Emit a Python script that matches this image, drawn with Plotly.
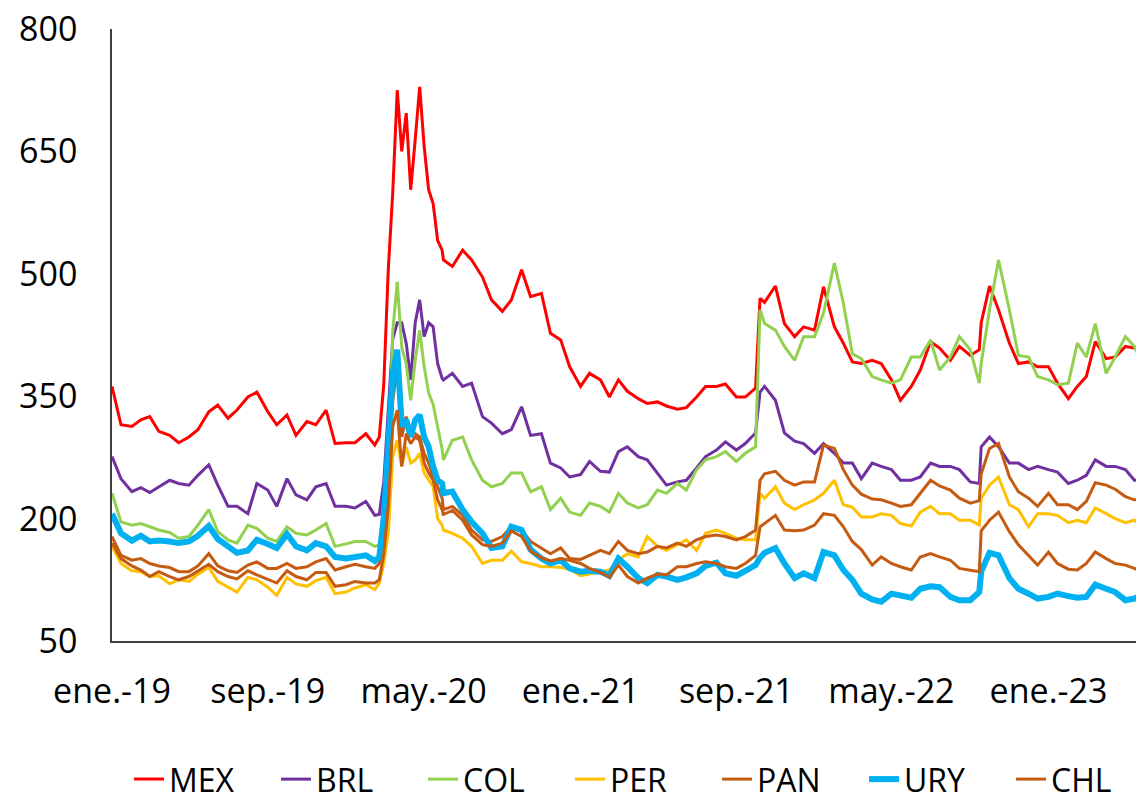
import pandas as pd
import plotly.graph_objects as go

# ---- x categories (dates) ----
seg_a = pd.date_range("2019-01-01", "2020-02-15", freq="SMS")
seg_b = pd.date_range("2020-02-22", "2020-05-30", freq="7D")
seg_c = pd.date_range("2020-06-01", "2023-06-01", freq="SMS")
extra = pd.to_datetime(["2021-10-08", "2022-09-18"])
dates = sorted(list(seg_a) + list(seg_b) + list(seg_c) + list(extra))

tick_dates = ["2019-01-01", "2019-09-01", "2020-05-01", "2021-01-01",
              "2021-09-01", "2022-05-01", "2023-01-01"]
tick_labels = ["ene.-19", "sep.-19", "may.-20", "ene.-21",
               "sep.-21", "may.-22", "ene.-23"]
y_ticks = [50, 200, 350, 500, 650, 800]

# ---- series values ----
MEX = [362, 315, 313, 321, 325, 307, 302, 293, 300, 309, 331, 339, 323, 333, 349, 355, 331, 315, 327, 302, 319, 315, 333, 292, 293, 293, 304, 290,
       300, 365, 505, 600, 725, 650, 697, 603, 664, 729, 656, 603, 586, 541, 529,
       517, 509, 529, 517, 496, 468, 454, 468, 505, 472, 476, 427, 419, 386,
       362, 378, 370, 349, 370, 356, 347, 341, 343, 338, 334, 336, 349, 362, 362, 365, 349, 349, 360, 470, 465, 485, 439, 423, 435,
       431, 484, 435, 415, 392, 390, 394, 390, 370, 345, 362, 382, 417, 409, 394, 411, 400, 407, 440, 485, 456, 415, 390, 392, 386,
       386, 366, 347, 362, 374, 417, 396, 398, 411, 409, 407]
BRL = [276, 249, 233, 238, 232, 239, 247, 243, 241, 253, 266, 241, 215, 215, 206, 243, 235, 215, 249, 229, 223, 239, 243, 215, 215, 213, 221, 204,
       205, 245, 330, 420, 440, 440, 415, 370, 440, 468, 423, 440, 435, 390, 372,
       370, 378, 362, 366, 325, 317, 304, 309, 337, 302, 304, 268, 262, 251,
       254, 270, 258, 257, 282, 288, 276, 272, 255, 241, 245, 247, 262, 276, 284, 294, 284, 292, 305, 355, 362, 345, 305, 295, 292,
       280, 292, 280, 268, 268, 249, 268, 264, 260, 247, 247, 251, 268, 264, 264, 260, 245, 243, 288, 300, 288, 268, 268, 260, 264,
       260, 257, 243, 247, 253, 272, 264, 264, 260, 247, 247]
COL = [231, 196, 192, 194, 190, 186, 183, 176, 178, 192, 211, 184, 174, 170, 192, 188, 176, 172, 190, 182, 180, 186, 194, 166, 169, 172, 172, 166,
       168, 202, 260, 430, 490, 410, 390, 345, 394, 431, 386, 354, 340, 312, 285,
       272, 296, 300, 272, 247, 239, 243, 256, 256, 233, 239, 211, 225, 208,
       204, 219, 215, 208, 231, 219, 213, 217, 235, 231, 243, 235, 260, 272, 276, 282, 270, 280, 288, 456, 439, 431, 411, 394, 423,
       423, 452, 513, 464, 402, 396, 374, 370, 366, 370, 398, 398, 419, 382, 398, 423, 407, 366, 390, 456, 517, 456, 400, 398, 374,
       370, 364, 366, 415, 398, 439, 378, 398, 423, 411, 382]
PER = [166, 145, 136, 135, 129, 130, 120, 125, 123, 132, 140, 123, 116, 110, 128, 125, 116, 106, 128, 120, 117, 124, 128, 108, 110, 115, 119, 113,
       121, 145, 182, 276, 296, 264, 288, 268, 272, 280, 256, 247, 239, 200, 192,
       186, 182, 176, 166, 145, 149, 149, 160, 147, 145, 141, 141, 140, 138,
       130, 132, 135, 137, 149, 157, 153, 178, 166, 161, 168, 174, 161, 182, 186, 182, 176, 174, 174, 231, 225, 239, 219, 211, 217,
       223, 231, 247, 217, 214, 202, 202, 206, 204, 194, 191, 208, 215, 206, 206, 198, 198, 192, 225, 241, 251, 217, 211, 190, 206,
       206, 204, 195, 198, 195, 213, 206, 200, 195, 198, 188]
PAN = [178, 155, 149, 151, 145, 142, 140, 135, 135, 142, 157, 142, 136, 134, 143, 147, 139, 139, 145, 139, 141, 147, 151, 137, 141, 144, 141, 139,
       145, 182, 239, 345, 385, 300, 325, 305, 304, 300, 280, 268, 250, 239, 225,
       211, 215, 204, 186, 174, 172, 178, 190, 186, 172, 164, 157, 164, 151,
       150, 155, 161, 157, 172, 161, 157, 159, 166, 164, 170, 166, 174, 178, 180, 178, 174, 178, 186, 247, 255, 258, 247, 241, 245,
       245, 290, 286, 260, 241, 230, 224, 223, 219, 215, 217, 231, 247, 240, 235, 225, 219, 222, 255, 286, 292, 251, 233, 225, 215,
       231, 217, 217, 211, 221, 244, 241, 236, 227, 223, 223]
URY = [206, 182, 173, 179, 172, 173, 172, 170, 172, 179, 191, 175, 166, 158, 161, 174, 169, 164, 181, 166, 161, 170, 166, 153, 151, 153, 155, 148,
       153, 202, 280, 378, 407, 313, 321, 300, 321, 327, 300, 288, 264, 247, 243,
       231, 233, 211, 196, 182, 164, 166, 190, 186, 162, 151, 145, 149, 139,
       135, 136, 135, 130, 151, 141, 127, 121, 131, 129, 125, 128, 133, 142, 146, 133, 130, 136, 143, 152, 158, 164, 145, 127, 133,
       127, 159, 155, 137, 125, 108, 101, 98, 108, 106, 103, 114, 117, 116, 104, 100, 100, 110, 135, 158, 155, 127, 114, 108, 102,
       104, 108, 105, 103, 104, 119, 114, 110, 100, 102, 108]
CHL = [170, 151, 142, 137, 129, 135, 129, 125, 129, 136, 144, 135, 129, 126, 136, 131, 125, 121, 136, 129, 125, 134, 134, 117, 119, 123, 121, 121,
       125, 157, 215, 313, 333, 264, 304, 292, 300, 296, 268, 256, 247, 223, 211,
       205, 210, 198, 180, 168, 166, 170, 185, 178, 160, 152, 148, 151, 149,
       145, 139, 134, 128, 143, 129, 121, 127, 132, 131, 141, 141, 145, 147, 145, 141, 139, 145, 155, 190, 194, 204, 186, 185, 186,
       192, 206, 204, 190, 172, 162, 143, 153, 145, 141, 137, 153, 157, 153, 149, 139, 137, 135, 185, 198, 208, 184, 168, 155, 143,
       159, 145, 138, 137, 145, 159, 151, 145, 143, 139, 133]

series = [
    ("MEX", MEX, "#FF0000", 3),
    ("BRL", BRL, "#7030A0", 3),
    ("COL", COL, "#92D050", 3),
    ("PER", PER, "#FFC000", 3),
    ("PAN", PAN, "#C55A11", 3),
    ("URY", URY, "#00B0F0", 6),
    ("CHL", CHL, "#C55A11", 3),
]

FONT = "'Open Sans', 'Liberation Sans', sans-serif"

fig = go.Figure()
for name, vals, color, width in series:
    n = min(len(vals), len(dates))
    fig.add_trace(go.Scatter(x=dates[:n], y=vals[:n], mode="lines", name=name,
                             line=dict(color=color, width=width)))

fig.update_layout(
    width=1136, height=790,
    margin=dict(l=104, r=0, t=21, b=157, autoexpand=False),
    paper_bgcolor="white", plot_bgcolor="white",
    font=dict(family=FONT, size=34, color="black"),
    showlegend=True,
    legend=dict(orientation="h", x=0.0165, xanchor="left", y=-0.226, yanchor="middle",
                font=dict(family=FONT, size=32, color="black"),
                entrywidth=102, entrywidthmode="pixels",
                traceorder="normal"),
    xaxis=dict(type="date", range=["2019-01-01", "2023-05-30"],
               tickvals=tick_dates, ticktext=tick_labels,
               showgrid=False, zeroline=False, showline=True, linecolor="#404040", linewidth=1.5,
               ticks="", ticklabelstandoff=19, automargin=False, ticklabeloverflow="allow"),
    yaxis=dict(range=[50, 800], tickvals=y_ticks, showgrid=False, zeroline=False,
               showline=True, linecolor="#404040", linewidth=1.5, ticks="",
               ticklabelstandoff=26, automargin=False, ticklabeloverflow="allow"),
)

fig.write_html("out.html")
